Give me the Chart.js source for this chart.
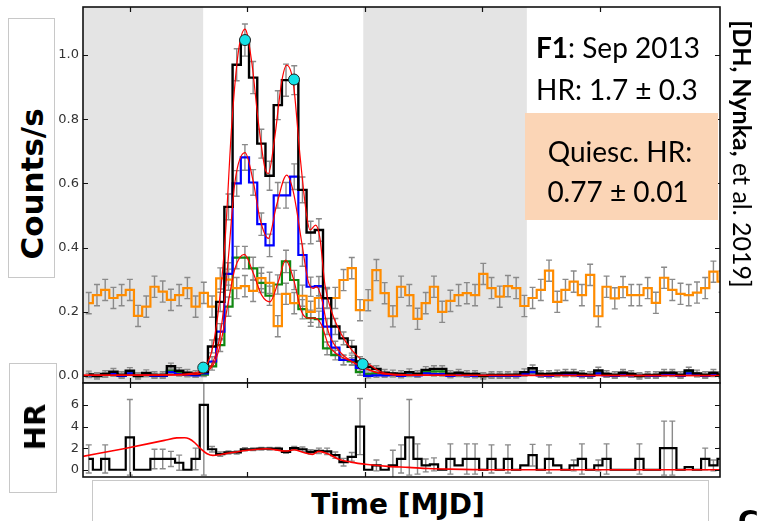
<!DOCTYPE html>
<html>
<head>
<meta charset="utf-8">
<script src="https://cdn.jsdelivr.net/npm/chart.js@4.4.1/dist/chart.umd.min.js"></script>
<style>
html, body { margin: 0; padding: 0; background: #fff; }
#wrap { position: relative; width: 760px; height: 521px; overflow: hidden; background: #fff; }
canvas { position: absolute; left: 0; top: 0; }
.box { position: absolute; border: 1px solid #c8c8c8; background: #fff; box-sizing: border-box; }
.lab { position: absolute; white-space: nowrap; font-family: "DejaVu Sans"; font-weight: bold; color: #000; }
.note { position: absolute; white-space: nowrap; font-family: Lato; color: #000; font-size: 28px; line-height: 28px; }
</style>
</head>
<body>
<div id="wrap">
  <canvas id="top" width="760" height="521"></canvas>
  <canvas id="hr" width="760" height="521"></canvas>

  <div class="box" style="left:8px;top:18px;width:47px;height:260px;"></div>
  <div class="lab" style="left:32px;top:184px;font-size:31px;transform:translate(-50%,-50%) rotate(-90deg);">Counts/s</div>

  <div class="box" style="left:9px;top:363px;width:48px;height:130px;"></div>
  <div class="lab" style="left:35px;top:427px;font-size:29px;transform:translate(-50%,-50%) rotate(-90deg);">HR</div>

  <div class="box" style="left:92px;top:480px;width:617px;height:60px;"></div>
  <div class="lab" style="left:398px;top:504px;font-size:28px;transform:translate(-50%,-50%);">Time [MJD]</div>

  <div class="note" style="left:536px;top:33px;"><b>F1</b>: Sep 2013</div>
  <div class="note" style="left:536px;top:75px;">HR: 1.7 ± 0.3</div>

  <div style="position:absolute;left:525px;top:113px;width:193px;height:107px;background:#fbd5b6;"></div>
  <div class="note" style="left:620px;top:137px;transform:translateX(-50%);">Quiesc. HR:</div>
  <div class="note" style="left:618px;top:177px;transform:translateX(-50%);">0.77 ± 0.01</div>

  <div class="note" style="left:742px;top:154px;font-size:25px;line-height:25px;transform:translate(-50%,-50%) rotate(90deg);"><b>[DH, Nynka,</b> et al. 2019]</div>

  <div class="lab" style="left:738px;top:505px;font-size:28px;">C</div>
</div>

<script>
// time axis in bin units, ticks only (no labels)
const xTicks = [5.5, 19.8, 34.1, 48.4, 62.7];
const countTicks = [0, 0.2, 0.4, 0.6, 0.8, 1.0];
const hrTicks = [0, 2, 4, 6];
const shaded = [[-0.2, 14.42], [33.9, 53.8]];

// quiescent reference light curve (orange)
const quiescent = [
  0.227, 0.252, 0.268, 0.243, 0.252, 0.268, 0.187, 0.216, 0.278, 0.263,
  0.237, 0.252, 0.274, 0.216, 0.259, 0.216, 0.304, 0.300, 0.274, 0.280,
  0.265, 0.305, 0.290, 0.155, 0.256, 0.227, 0.250, 0.200, 0.243, 0.243,
  0.243, 0.299, 0.336, 0.205, 0.236, 0.330, 0.258, 0.186, 0.278, 0.252,
  0.178, 0.227, 0.278, 0.200, 0.234, 0.252, 0.258, 0.252, 0.318, 0.274,
  0.247, 0.280, 0.274, 0.218, 0.243, 0.268, 0.328, 0.231, 0.268, 0.294,
  0.252, 0.315, 0.186, 0.278, 0.242, 0.277, 0.252, 0.252, 0.274, 0.228,
  0.306, 0.268, 0.256, 0.252, 0.260, 0.274, 0.325, 0.294
];
const errQuiescent = 0.033;

// flare: total (black), soft (blue), hard (green)
const total = [
  0.005, 0.000, 0.006, 0.013, 0.003, 0.016, 0.000, 0.009, 0.003, 0.003,
  0.030, 0.016, 0.010, 0.006, 0.012, 0.092, 0.231, 0.527, 0.970, 1.047,
  0.930, 0.724, 0.624, 0.844, 0.922, 0.922, 0.580, 0.447, 0.455, 0.242,
  0.154, 0.117, 0.091, 0.045, 0.028, 0.022, 0.010, 0.008, 0.006, 0.012,
  0.006, 0.019, 0.022, 0.022, 0.006, 0.010, 0.006, 0.006, 0.000, 0.003,
  0.003, 0.003, 0.004, 0.012, 0.024, 0.006, 0.006, 0.008, 0.010, 0.010,
  0.006, 0.003, 0.017, 0.006, 0.003, 0.010, 0.006, 0.000, 0.003, 0.003,
  0.010, 0.010, 0.003, 0.017, 0.008, 0.003, 0.010, 0.003
];
const soft = [
  0.002, 0.000, 0.003, 0.006, 0.000, 0.008, 0.000, 0.004, 0.000, 0.000,
  0.012, 0.006, 0.003, 0.002, 0.008, 0.045, 0.138, 0.318, 0.600, 0.681,
  0.603, 0.473, 0.407, 0.563, 0.563, 0.621, 0.377, 0.278, 0.280, 0.154,
  0.088, 0.050, 0.050, 0.025, 0.000, 0.002, 0.002, 0.003, 0.000, 0.004,
  0.002, 0.008, 0.006, 0.006, 0.000, 0.004, 0.002, 0.000, 0.000, 0.000,
  0.000, 0.000, 0.000, 0.006, 0.012, 0.002, 0.000, 0.003, 0.003, 0.004,
  0.000, 0.000, 0.008, 0.002, 0.000, 0.004, 0.002, 0.000, 0.000, 0.000,
  0.004, 0.004, 0.000, 0.008, 0.003, 0.000, 0.004, 0.000
];
const hard = [
  0.002, 0.000, 0.003, 0.006, 0.002, 0.008, 0.000, 0.004, 0.002, 0.002,
  0.016, 0.009, 0.006, 0.003, 0.004, 0.030, 0.096, 0.216, 0.369, 0.369,
  0.335, 0.290, 0.250, 0.285, 0.357, 0.299, 0.208, 0.180, 0.177, 0.086,
  0.065, 0.050, 0.045, 0.012, 0.006, 0.008, 0.005, 0.004, 0.003, 0.006,
  0.004, 0.012, 0.014, 0.014, 0.004, 0.006, 0.003, 0.004, 0.000, 0.002,
  0.002, 0.002, 0.003, 0.006, 0.012, 0.004, 0.004, 0.005, 0.006, 0.006,
  0.004, 0.002, 0.010, 0.004, 0.002, 0.008, 0.004, 0.000, 0.002, 0.002,
  0.006, 0.008, 0.002, 0.012, 0.005, 0.002, 0.006, 0.002
];
const errTotal = [
  0.010, 0.010, 0.010, 0.010, 0.010, 0.010, 0.010, 0.010, 0.010, 0.010,
  0.010, 0.010, 0.010, 0.010, 0.010, 0.020, 0.030, 0.040, 0.050, 0.050,
  0.050, 0.045, 0.045, 0.045, 0.050, 0.045, 0.040, 0.035, 0.035, 0.030,
  0.025, 0.020, 0.020, 0.015, 0.010, 0.010, 0.010, 0.010, 0.010, 0.010,
  0.010, 0.010, 0.010, 0.010, 0.010, 0.010, 0.010, 0.010, 0.010, 0.010,
  0.010, 0.010, 0.010, 0.010, 0.010, 0.010, 0.010, 0.010, 0.010, 0.010,
  0.010, 0.010, 0.010, 0.010, 0.010, 0.010, 0.010, 0.010, 0.010, 0.010,
  0.010, 0.010, 0.010, 0.010, 0.010, 0.010, 0.010, 0.010
];
const errSoft = [
  0.006, 0.006, 0.006, 0.006, 0.006, 0.006, 0.006, 0.006, 0.006, 0.006,
  0.006, 0.006, 0.006, 0.006, 0.006, 0.015, 0.025, 0.035, 0.040, 0.040,
  0.040, 0.035, 0.035, 0.040, 0.040, 0.040, 0.035, 0.030, 0.030, 0.025,
  0.020, 0.015, 0.015, 0.010, 0.006, 0.006, 0.006, 0.006, 0.006, 0.006,
  0.006, 0.006, 0.006, 0.006, 0.006, 0.006, 0.006, 0.006, 0.006, 0.006,
  0.006, 0.006, 0.006, 0.006, 0.006, 0.006, 0.006, 0.006, 0.006, 0.006,
  0.006, 0.006, 0.006, 0.006, 0.006, 0.006, 0.006, 0.006, 0.006, 0.006,
  0.006, 0.006, 0.006, 0.006, 0.006, 0.006, 0.006, 0.006
];
const errHard = [
  0.006, 0.006, 0.006, 0.006, 0.006, 0.006, 0.006, 0.006, 0.006, 0.006,
  0.006, 0.006, 0.006, 0.006, 0.006, 0.012, 0.020, 0.030, 0.035, 0.035,
  0.035, 0.030, 0.030, 0.030, 0.035, 0.030, 0.030, 0.025, 0.025, 0.020,
  0.015, 0.015, 0.012, 0.010, 0.006, 0.006, 0.006, 0.006, 0.006, 0.006,
  0.006, 0.006, 0.006, 0.006, 0.006, 0.006, 0.006, 0.006, 0.006, 0.006,
  0.006, 0.006, 0.006, 0.006, 0.006, 0.006, 0.006, 0.006, 0.006, 0.006,
  0.006, 0.006, 0.006, 0.006, 0.006, 0.006, 0.006, 0.006, 0.006, 0.006,
  0.006, 0.006, 0.006, 0.006, 0.006, 0.006, 0.006, 0.006
];

// model fits (red), [time, rate]
const fitTotal = [
  [-0.2, 0.003], [6, 0.003], [11, 0.004], [13, 0.008], [14, 0.014], [14.64, 0.024],
  [15.86, 0.128], [17.07, 0.418], [17.89, 0.78], [18.7, 1.01], [19.51, 1.081],
  [20.32, 0.98], [21.13, 0.792], [21.94, 0.647], [22.35, 0.631], [23.16, 0.75],
  [23.97, 0.917], [24.58, 0.969], [25.39, 0.912], [26.2, 0.688], [27.01, 0.5],
  [27.42, 0.455], [28.1, 0.47], [28.63, 0.429], [29.24, 0.283], [30.05, 0.2],
  [31.27, 0.128], [32.48, 0.081], [33.7, 0.05], [34.71, 0.034], [36, 0.013],
  [39, 0.004], [50, 0.002], [77.3, 0.002]
];
const fitSoft = [
  [-0.2, 0.002], [11, 0.003], [13, 0.005], [14.64, 0.012], [15.86, 0.06],
  [16.67, 0.159], [17.48, 0.367], [18.29, 0.605], [19.51, 0.696], [20.52, 0.605],
  [21.33, 0.49], [22.35, 0.429], [23.36, 0.533], [24.58, 0.626], [25.39, 0.574],
  [26.4, 0.418], [27.21, 0.294], [27.82, 0.273], [28.23, 0.278], [28.83, 0.242],
  [29.65, 0.138], [30.86, 0.081], [32.48, 0.045], [34.11, 0.024], [36, 0.008],
  [40, 0.002], [77.3, 0.001]
];
const fitHard = [
  [-0.2, 0.002], [11, 0.003], [13, 0.005], [14.64, 0.012], [15.86, 0.045],
  [16.67, 0.117], [17.48, 0.231], [18.29, 0.335], [19.43, 0.379], [20.52, 0.32],
  [21.54, 0.252], [22.55, 0.231], [23.56, 0.294], [24.46, 0.361], [25.39, 0.304],
  [26.4, 0.2], [27.21, 0.18], [28.02, 0.18], [28.83, 0.159], [29.65, 0.097],
  [30.86, 0.065], [32.48, 0.045], [34.11, 0.024], [36, 0.008], [40, 0.002],
  [77.3, 0.001]
];
// flare start, peaks, end (cyan)
const markers = [[14.43, 0.026], [19.51, 1.047], [25.47, 0.924], [33.83, 0.037]];

// hardness ratio panel
const hr = [
  1, 0, 1, 0, 0, 3, 0, 0, 1, 1,
  1, 0.65, 0, 1, 6, 1.9, 1.45, 1.6, 1.6, 1.9,
  1.9, 1.95, 1.95, 1.95, 1.65, 2.0, 1.9, 1.65, 1.75, 1.7,
  1.35, 0.7, 1.2, 4, 0, 0.4, 0, 0.4, 1, 3,
  1, 0.4, 0.5, 0, 1, 0.4, 1, 1, 0, 1,
  0, 1, 0, 0.4, 1.35, 0, 1, 0.4, 0, 0.4,
  1, 0, 0.4, 1, 0, 0, 0, 1, 0, 0,
  2, 2, 0, 0.25, 0, 1, 0.4, 1
];
const errHr = [
  1.3, 0, 1.3, 0, 0, 3.5, 0, 0, 0.9, 0.9,
  0.7, 0.7, 0, 1.0, 6.5, 0.25, 0.2, 0.15, 0.15, 0.15,
  0.12, 0.12, 0.12, 0.12, 0.12, 0.15, 0.2, 0.2, 0.25, 0.3,
  0.3, 0.35, 0.4, 2.6, 0, 0.5, 0, 1.4, 1.3, 3.5,
  1.4, 0.6, 0.6, 0, 1.4, 0, 1.4, 1.4, 0, 1.3,
  0, 1.3, 0, 0, 1.0, 0, 1.3, 0, 0, 0.5,
  1.4, 0, 0.5, 1.4, 0, 0, 0, 1.4, 0, 0,
  2.5, 2.5, 0, 0, 0, 1.0, 0.5, 1.0
];
const fitHr = [
  [-0.2, 1.24], [4.75, 1.95], [9.7, 2.72], [11.2, 2.95], [12.16, 2.96], [12.7, 2.87],
  [13.4, 2.5], [14.1, 1.95], [14.9, 1.48], [15.6, 1.33], [16.6, 1.42], [19.6, 1.79],
  [22.05, 1.95], [24.5, 1.73], [25.5, 1.85], [26.75, 1.57], [27.7, 1.42], [28.5, 1.7],
  [29.5, 1.5], [31, 0.96], [32.4, 0.71], [34.4, 0.49], [36.9, 0.31], [39.4, 0.22],
  [41.8, 0.12], [44.3, 0.06], [49.2, 0.0], [77.3, 0.0]
];

const steps = (vals, errs) => vals.map((v, i) => ({
  x: i + 0.5, y: v, e: Array.isArray(errs) ? errs[i] : errs
}));
const pts = arr => arr.map(p => ({ x: p[0], y: p[1] }));

function stepSet(vals, errs, color, width, order) {
  return { data: steps(vals, errs), stepped: 'middle', borderColor: color,
           borderWidth: width, pointRadius: 0, fill: false, order: order };
}
function fitSet(arr, width) {
  return { data: pts(arr), borderColor: '#ff0000', borderWidth: width, pointRadius: 0,
           cubicInterpolationMode: 'monotone', fill: false, order: 1 };
}

// shaded intervals, white plot background and gray error bars
const bandsPlugin = {
  id: 'bands',
  beforeDatasetsDraw(chart, args, opts) {
    const { ctx, chartArea: a, scales: { x, y } } = chart;
    ctx.save();
    ctx.fillStyle = '#fff';
    ctx.fillRect(a.left, a.top, a.right - a.left, a.bottom - a.top);
    ctx.fillStyle = '#e4e4e4';
    (opts.bands || []).forEach(b => {
      const l = Math.max(a.left, x.getPixelForValue(b[0]));
      const r = Math.min(a.right, x.getPixelForValue(b[1]));
      ctx.fillRect(l, a.top, r - l, a.bottom - a.top);
    });
    ctx.beginPath();
    ctx.rect(a.left, a.top, a.right - a.left, a.bottom - a.top);
    ctx.clip();
    ctx.strokeStyle = '#8a8a8a';
    ctx.lineWidth = 1.4;
    chart.data.datasets.forEach(ds => {
      ds.data.forEach(p => {
        if (!p.e) return;
        const px = x.getPixelForValue(p.x);
        const y1 = y.getPixelForValue(p.y - p.e);
        const y2 = y.getPixelForValue(p.y + p.e);
        ctx.beginPath();
        ctx.moveTo(px, y1); ctx.lineTo(px, y2);
        ctx.moveTo(px - 3, y1); ctx.lineTo(px + 3, y1);
        ctx.moveTo(px - 3, y2); ctx.lineTo(px + 3, y2);
        ctx.stroke();
      });
    });
    ctx.restore();
  }
};

// matplotlib-like frame with inward ticks
const framePlugin = {
  id: 'frame',
  afterDraw(chart) {
    const { ctx, chartArea: a, scales: { x, y } } = chart;
    ctx.save();
    ctx.strokeStyle = '#111';
    ctx.lineWidth = 1.2;
    ctx.beginPath();
    x.ticks.forEach(t => {
      const px = Math.round(x.getPixelForValue(t.value)) + 0.5;
      ctx.moveTo(px, a.top); ctx.lineTo(px, a.top + 5);
      ctx.moveTo(px, a.bottom); ctx.lineTo(px, a.bottom - 5);
    });
    y.ticks.forEach(t => {
      const py = Math.round(y.getPixelForValue(t.value)) + 0.5;
      ctx.moveTo(a.left, py); ctx.lineTo(a.left + 5, py);
      ctx.moveTo(a.right, py); ctx.lineTo(a.right - 5, py);
    });
    ctx.stroke();
    ctx.lineWidth = 1.6;
    ctx.strokeRect(a.left, a.top, a.right - a.left, a.bottom - a.top);
    ctx.restore();
  }
};

function axes(ymin, ymax, yticks, fmt) {
  return {
    x: { type: 'linear', min: -0.2, max: 77.3,
         ticks: { display: false }, grid: { display: false, drawTicks: false },
         border: { display: false },
         afterBuildTicks: s => { s.ticks = xTicks.map(v => ({ value: v })); },
         afterFit: s => { s.height = 0; s.paddingLeft = 0; s.paddingRight = 0; } },
    y: { min: ymin, max: ymax,
         ticks: { font: { family: 'DejaVu Sans', size: 13 }, color: '#333', padding: 4, callback: fmt },
         grid: { display: false, drawTicks: false }, border: { display: false },
         afterBuildTicks: s => { s.ticks = yticks.map(v => ({ value: v })); },
         afterFit: s => { s.width = 83; s.paddingTop = 0; s.paddingBottom = 0; } }
  };
}

new Chart(document.getElementById('top'), {
  type: 'line',
  data: {
    datasets: [
      { data: pts(markers), showLine: false, pointRadius: 5.5, pointBackgroundColor: '#16e0e6',
        pointBorderColor: '#222', pointBorderWidth: 1, order: 0 },
      fitSet(fitTotal, 1.2),
      fitSet(fitSoft, 1.2),
      fitSet(fitHard, 1.2),
      stepSet(total, errTotal, '#000000', 2.4, 2),
      stepSet(quiescent, errQuiescent, '#ff8c00', 2.2, 3),
      stepSet(soft, errSoft, '#0000ff', 2.2, 4),
      stepSet(hard, errHard, '#118811', 2.2, 5)
    ]
  },
  options: {
    responsive: false, animation: false,
    layout: { padding: { left: 0, top: 7, right: 40, bottom: 138 } },
    plugins: { legend: { display: false }, tooltip: { enabled: false }, bands: { bands: shaded } },
    scales: axes(-0.022, 1.15, countTicks, v => v.toFixed(1))
  },
  plugins: [bandsPlugin, framePlugin]
});

new Chart(document.getElementById('hr'), {
  type: 'line',
  data: {
    datasets: [
      fitSet(fitHr, 1.6),
      stepSet(hr, errHr, '#000000', 2.2, 2)
    ]
  },
  options: {
    responsive: false, animation: false,
    layout: { padding: { left: 0, top: 383, right: 40, bottom: 44 } },
    plugins: { legend: { display: false }, tooltip: { enabled: false }, bands: { bands: [] } },
    scales: axes(-0.67, 8.03, hrTicks, v => String(v))
  },
  plugins: [bandsPlugin, framePlugin]
});
</script>
</body>
</html>
